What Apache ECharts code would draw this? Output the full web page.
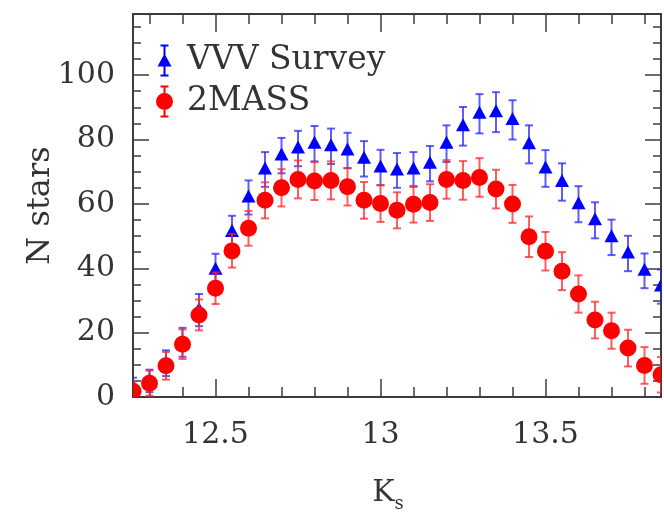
<!DOCTYPE html>
<html><head><meta charset="utf-8">
<script src="https://cdn.jsdelivr.net/npm/echarts@6/dist/echarts.min.js"></script>
<style>html,body{margin:0;padding:0;background:#fff}#c{width:664px;height:512px}</style>
</head><body><div id="c"></div>
<script>
const ks = [12.25,12.30,12.35,12.40,12.45,12.50,12.55,12.60,12.65,12.70,12.75,12.80,12.85,12.90,12.95,13.00,13.05,13.10,13.15,13.20,13.25,13.30,13.35,13.40,13.45,13.50,13.55,13.60,13.65,13.70,13.75,13.80,13.85];
const vvvCounts = [3,5,10.5,17,27,39.5,51.3,62,70.7,75,77.2,78.7,77.9,76.6,74,71.3,70.4,70.7,72.5,78.7,84.1,88,88.5,86.1,78.5,71,66.8,59.9,54.9,49.6,44.6,39.2,34.3];
const vvvErrors = [3,3.5,4,4.5,5,5,5,5.3,5.4,5.5,5.5,5.5,5.5,5.5,5.5,5.5,5.4,5.4,5.5,5.7,6,6.1,6.2,6.1,5.9,5.7,5.8,5.6,5.6,5.5,5.5,5.4,5.3];
const tmassCounts = [1.8,4.3,9.7,16.4,25.5,33.8,45.4,52.4,61.1,65,67.6,67.1,67.3,65.3,61.1,60.1,58,59.9,60.4,67.6,67.3,68.2,64.6,60,49.8,45.3,39.1,32,23.9,20.6,15.2,9.8,6.9];
const tmassErrors = [3,3.9,4.3,4.6,4.8,4.9,5.2,5.4,5.6,5.8,5.9,5.9,5.9,5.8,5.7,5.7,5.6,5.7,5.7,6,6,6,6,5.9,6.3,6,5.9,5.8,5.7,5.6,5.7,5.7,5.5];
const xMajorTicks = [12.5, 13, 13.5];
const xMinorTicks = [12.3,12.4,12.6,12.7,12.8,12.9,13.1,13.2,13.3,13.4,13.6,13.7,13.8];
const yMajorTicks = [0,20,40,60,80,100];
const yMinorTicks = [5,10,15,25,30,35,45,50,55,65,70,75,85,90,95,105,110,115];
const seriesNames = ['VVV Survey','2MASS'];

const FONT = 'DejaVu Serif';
const TXT = '#333';
const AX = '#3c3c3c';

function makeRender(kind, color, barColor){
  return function(params, api){
    const x = api.value(0), y = api.value(1), e = api.value(2);
    const c = api.coord([x,y]);
    const t = api.coord([x,y+e]);
    const b = api.coord([x,y-e]);
    const cw = 4;
    const ls = {stroke: barColor, lineWidth: 2};
    const ch = [
      {type:'line', shape:{x1:c[0],y1:t[1],x2:c[0],y2:b[1]}, style:ls},
      {type:'line', shape:{x1:c[0]-cw,y1:t[1],x2:c[0]+cw,y2:t[1]}, style:ls},
      {type:'line', shape:{x1:c[0]-cw,y1:b[1],x2:c[0]+cw,y2:b[1]}, style:ls}
    ];
    if (kind === 'tri') {
      ch.push({type:'polygon', shape:{points:[[c[0],c[1]-8],[c[0]+7,c[1]+5],[c[0]-7,c[1]+5]]}, style:{fill:color}});
    } else {
      ch.push({type:'circle', shape:{cx:c[0],cy:c[1],r:8.5}, style:{fill:color}});
    }
    return {type:'group', children: ch};
  };
}

function xAx(pos, ticks, len, labels, extra){
  return Object.assign({
    type:'value', min:12.25, max:13.85, position:pos,
    axisLine:{show:true, onZero:false, lineStyle:{color:AX, width:2}},
    axisTick:{show:true, inside:true, length:len, customValues:ticks, lineStyle:{color:AX, width:1.5}},
    axisLabel: labels ? {show:true, customValues:ticks, margin:23, fontFamily:FONT, fontSize:30, color:TXT, formatter: v => String(v)} : {show:false},
    splitLine:{show:false}
  }, extra || {});
}
function yAx(pos, ticks, len, labels, extra){
  return Object.assign({
    type:'value', min:0, max:119, position:pos,
    axisLine:{show:true, onZero:false, lineStyle:{color:AX, width:2}},
    axisTick:{show:true, inside:true, length:len, customValues:ticks, lineStyle:{color:AX, width:1.5}},
    axisLabel: labels ? {show:true, customValues:ticks, margin:18, fontFamily:FONT, fontSize:30, color:TXT} : {show:false},
    splitLine:{show:false}
  }, extra || {});
}

const blueIcon = 'path://M4.5 0 H12.5 V2 H4.5 Z M4.5 30 H12.5 V32 H4.5 Z M7.5 0 H9.5 V32 H7.5 Z M8.5 9 L15.5 22 L1.5 22 Z';
const redIcon = 'path://M4.5 0 H12.5 V2 H4.5 Z M4.5 30 H12.5 V32 H4.5 Z M7.5 0 H9.5 V32 H7.5 Z M0 16 A8.5 8.5 0 1 1 17 16 A8.5 8.5 0 1 1 0 16 Z';

const chart = echarts.init(document.getElementById('c'), null, {renderer:'canvas'});
chart.setOption({
  animation:false,
  backgroundColor:'#fff',
  grid:{left:133, right:3, top:14, bottom:115, containLabel:false, outerBoundsMode:'none'},
  legend:{
    show:true, orient:'vertical', left:156, top:44, itemGap:8, itemWidth:17, itemHeight:32,
    selectedMode:false, padding:0,
    data:[{name:seriesNames[0], icon:blueIcon},{name:seriesNames[1], icon:redIcon}],
    textStyle:{fontFamily:FONT, fontSize:33, color:TXT, padding:[0,0,0,9]}
  },
  xAxis:[
    xAx('bottom', xMajorTicks, 18, true, {
      name:'{k|K}{s|s}', nameLocation:'middle', nameGap:76,
      nameTextStyle:{padding:[0,18,0,0], rich:{k:{fontFamily:FONT, fontSize:30, color:TXT, lineHeight:40, verticalAlign:'middle'}, s:{fontFamily:FONT, fontSize:18, color:TXT, lineHeight:40, verticalAlign:'bottom'}}}
    }),
    xAx('bottom', xMinorTicks, 10, false),
    xAx('top', xMajorTicks, 18, false),
    xAx('top', xMinorTicks, 10, false)
  ],
  yAxis:[
    yAx('left', yMajorTicks, 16, true, {
      name:'N stars', nameLocation:'middle', nameRotate:90, nameGap:76, nameMoveOverlap:false,
      nameTextStyle:{fontFamily:FONT, fontSize:32, color:TXT}
    }),
    yAx('left', yMinorTicks, 8, false),
    yAx('right', yMajorTicks, 16, false),
    yAx('right', yMinorTicks, 8, false)
  ],
  series:[
    {name:seriesNames[0], type:'custom', xAxisIndex:0, yAxisIndex:0, clip:true,
     itemStyle:{color:'#0000ff'},
     renderItem: makeRender('tri','#0000ff','rgba(40,40,255,0.75)'),
     encode:{x:0,y:1},
     data: ks.map((k,i)=>[k, vvvCounts[i], vvvErrors[i]])},
    {name:seriesNames[1], type:'custom', xAxisIndex:0, yAxisIndex:0, clip:true,
     itemStyle:{color:'#ff0000'},
     renderItem: makeRender('circ','#ff0000','rgba(255,40,40,0.75)'),
     encode:{x:0,y:1},
     data: ks.map((k,i)=>[k, tmassCounts[i], tmassErrors[i]])}
  ]
});
</script></body></html>
